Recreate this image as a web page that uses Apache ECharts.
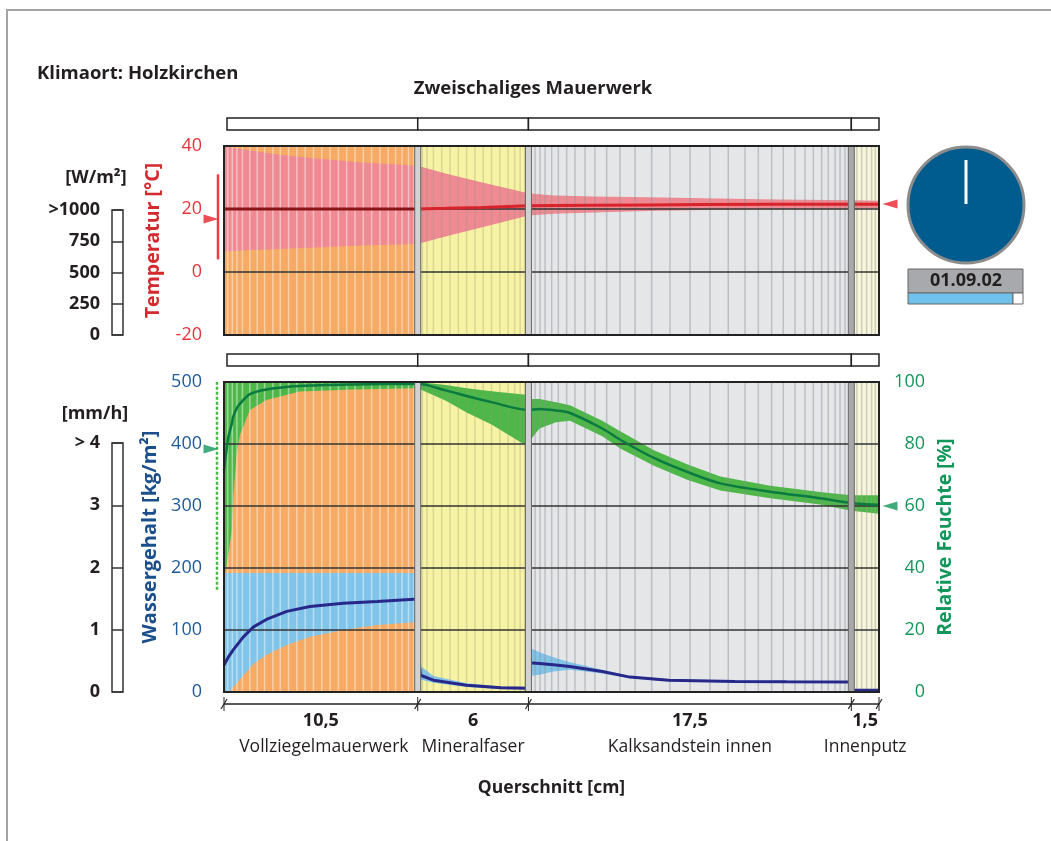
<!DOCTYPE html>
<html>
<head>
<meta charset="utf-8">
<title>Zweischaliges Mauerwerk</title>
<script src="https://cdn.jsdelivr.net/npm/echarts@6/dist/echarts.min.js"></script>
<style>
  html, body { margin: 0; padding: 0; background: #fff; }
  #chart { width: 1051px; height: 841px; }
</style>
</head>
<body>
<div id="chart"></div>
<script>
// Schichtaufbau (von aussen nach innen)
var layerNames = ['Vollziegelmauerwerk', 'Mineralfaser', 'Kalksandstein innen', 'Innenputz'];
var layerThickness = [10.5, 6, 17.5, 1.5];
var layerLabels = ['10,5', '6', '17,5', '1,5'];
var layerColors = ['#f6aa63', '#f7f3a4', '#e4e6e8', '#f7f5dd'];
var cellColors = ['rgba(255,255,255,0.45)', 'rgba(150,150,120,0.3)', 'rgba(140,145,150,0.45)', 'rgba(160,160,130,0.45)'];

// Berechnungsgitter [cm]
var cellPos = [0.2, 0.45, 0.7, 1.0, 1.4, 1.8, 2.2, 2.65, 3.05, 3.5, 3.95, 4.4, 4.85, 5.3, 5.75, 6.2, 6.65, 7.1, 7.55, 8.0, 8.45, 8.9, 9.3, 9.65, 10.0, 10.3,
  10.75, 11.0, 11.35, 11.8, 12.25, 12.7, 13.15, 13.6, 14.05, 14.5, 14.95, 15.4, 15.75, 16.05, 16.3,
  16.86, 17.13, 17.4, 17.76, 18.12, 18.57, 19.02, 19.57, 20.1, 20.74, 21.46, 22.28, 23.18, 24.17, 25.26, 26.34, 27.33, 28.24, 28.96, 29.68, 30.31, 30.95, 31.49, 31.94, 32.39, 32.75, 33.12, 33.39, 33.66,
  34.3, 34.56, 34.83, 35.1, 35.3];

// Temperatur [°C]
var tempPos  = [0,    1,    3,    5,    7.5,  10.5, 12,   14,   16.5, 17.9, 20,   23,   26,   30,   34,   35.5];
var tempMax  = [39.8, 39.0, 37.2, 36.0, 34.8, 33.7, 31.3, 28.4, 25.0, 24.3, 24.0, 23.7, 23.4, 23.0, 22.8, 22.6];
var tempMin  = [6.5,  6.8,  7.3,  7.8,  8.4,  8.9,  11.3, 14.2, 17.9, 18.5, 18.9, 19.4, 19.7, 19.9, 20.0, 20.2];
var tempMean = [20.0, 20.0, 20.0, 20.0, 20.0, 20.0, 20.2, 20.5, 21.0, 21.1, 21.2, 21.3, 21.4, 21.5, 21.5, 21.5];

// Wassergehalt [kg/m³]
var wcPos  = [0,    0.27, 0.5, 1.05, 1.6, 2.3, 3.4, 4.66, 6.47, 8.3, 10.5,  10.5, 10.65, 11.35, 13.15, 15, 16.5,  16.5, 17.1, 17.85, 18.75, 20.5, 22, 24.1, 27.7, 30.5, 34,  34,  35.5];
var wcMean = [43.5, 58,   68,  89,   105, 117, 130, 138,  143,  146, 150,   63,   27,    19,    11,    7,  6,     47,   46,   44,    41,    33,   24, 19,   17,   16.5, 16,  3,   3];
var wcMin  = [0,    0,    8,   27,   45,  60,  76,  89,   100,  108, 113,   50,   20,    15,    8,     5,  4,     26,   28,   33,    36,    30,   22, 17.5, 15.5, 15,   14.5, 2,  2];
var wcMax  = [192,  192,  192, 192,  192, 192, 192, 192,  192,  192, 192,   66,   42,    26,    14,    9,  8,     72,   64,   56,    48,    36,   26, 20.5, 18.5, 18,   17.5, 4.5, 4.5];

// Relative Feuchte [%]
var rhPos  = [0,    0.23, 0.42, 0.5,  0.69, 0.87, 1.4,  2.3,  4.1,  7,    10.5, 12,   13.15, 14.5, 16.5, 16.5, 17.1, 18,   18.75, 20.5, 21.5, 23.3, 25.1, 26.9, 29.6, 32.3, 34,   35.5];
var rhMean = [71.6, 82,   86.5, 88.8, 91.5, 93,   96.1, 97.6, 98.7, 99.2, 99.4, 97.3, 95.5,  93.5, 91,   91,   91.3, 90.8, 90,    85,   81.3, 75.5, 71,   67.3, 64.6, 62.5, 61,   60.4];
var rhMin  = [36,   44,   52,   63,   77,   83,   91,   94.2, 96.9, 97.6, 98,   94,   90.2,  86.3, 79,   80.5, 85,   87,   87.5,  82.5, 78.5, 73,   68.5, 65,   62.5, 60.5, 58.5, 57.5];
var rhMax  = [100,  100,  100,  100,  100,  100,  100,  100,  100,  100,  100,  99,   98,    97,   95.8, 94.5, 94.5, 93.5, 92.5,  87.5, 84,   78,   73.5, 69.5, 66.5, 64.5, 63.5, 63.5];

// Randbedingungen aussen / innen
var tempOutside = 16.8, tempInside = 21.6, tempOutsideRange = [4, 31];
var rhOutside = 78.4, rhInside = 60, rhOutsideRange = [33, 100];

var FONT = '"Open Sans", "Liberation Sans", sans-serif';
var INK = '#231f20';

var layerStart = [];
var total = 0;
layerThickness.forEach(function (t) { layerStart.push(total); total += t; });

function layerOf(x) {
  var idx = 0;
  layerStart.forEach(function (s, i) { if (x >= s) idx = i; });
  return idx;
}

// Schichtfarben + Kopfleiste
function layerSeries(g, yIdx) {
  return {
    type: 'custom', xAxisIndex: g, yAxisIndex: yIdx, z: 1, silent: true,
    data: layerThickness.map(function (t, i) { return [layerStart[i], layerStart[i] + t]; }),
    renderItem: function (params, api) {
      var cs = params.coordSys;
      var i = params.dataIndex;
      var x0 = api.coord([api.value(0), 0])[0];
      var x1 = api.coord([api.value(1), 0])[0];
      return {
        type: 'group',
        children: [
          { type: 'rect', shape: { x: x0, y: cs.y, width: x1 - x0, height: cs.height }, style: { fill: layerColors[i] } },
          { type: 'rect', shape: { x: i === 0 ? x0 + 3 : x0, y: cs.y - 28, width: x1 - x0 - (i === 0 ? 3 : 0), height: 12 }, style: { fill: '#fff', stroke: '#222', lineWidth: 1.5 } }
        ]
      };
    }
  };
}

function cellSeries(g, yIdx) {
  return {
    type: 'custom', xAxisIndex: g, yAxisIndex: yIdx, z: 3, silent: true,
    data: cellPos.map(function (p) { return [p]; }),
    renderItem: function (params, api) {
      var cs = params.coordSys;
      var x = api.coord([api.value(0), 0])[0];
      return { type: 'line', shape: { x1: x, y1: cs.y, x2: x, y2: cs.y + cs.height }, style: { stroke: cellColors[layerOf(api.value(0))], lineWidth: 1.5 } };
    }
  };
}

function separatorSeries(g, yIdx) {
  return {
    type: 'custom', xAxisIndex: g, yAxisIndex: yIdx, z: 6, silent: true,
    data: layerStart.slice(1).map(function (p) { return [p]; }),
    renderItem: function (params, api) {
      var cs = params.coordSys;
      var x = api.coord([api.value(0), 0])[0];
      var dark = params.dataIndex === layerStart.length - 2;
      return { type: 'rect', shape: { x: x - 3, y: cs.y, width: 6, height: cs.height }, style: { fill: dark ? '#a9a9a9' : '#d2d2d2', stroke: '#666', lineWidth: 1 } };
    }
  };
}

function bandSeries(g, yIdx, pos, lo, hi, color) {
  return {
    type: 'custom', xAxisIndex: g, yAxisIndex: yIdx, z: 2, silent: true,
    data: pos.map(function (p, i) { return [p, lo[i], hi[i]]; }),
    renderItem: function (params, api) {
      if (params.dataIndex !== 0) return null;
      var top = pos.map(function (p, i) { return api.coord([p, hi[i]]); });
      var bottom = pos.map(function (p, i) { return api.coord([p, lo[i]]); }).reverse();
      return { type: 'polygon', shape: { points: top.concat(bottom) }, style: { fill: color } };
    }
  };
}

function meanSeries(name, g, yIdx, pos, val, color, width, smooth) {
  return {
    name: name, type: 'line', xAxisIndex: g, yAxisIndex: yIdx, z: 5, silent: true,
    showSymbol: false, symbol: 'none', smooth: smooth || false,
    data: pos.map(function (p, i) { return [p, val[i]]; }),
    lineStyle: { color: color, width: width }
  };
}

function rangeSeries(g, yIdx, range, color, dash, offset) {
  return {
    type: 'custom', xAxisIndex: g, yAxisIndex: yIdx, z: 8, silent: true,
    data: [[0, range[0], range[1]]],
    renderItem: function (params, api) {
      var a = api.coord([0, api.value(1)]);
      var b = api.coord([0, api.value(2)]);
      return { type: 'line', shape: { x1: a[0] + offset, y1: a[1], x2: b[0] + offset, y2: b[1] }, style: { stroke: color, lineWidth: 2.5, lineDash: dash } };
    }
  };
}

function arrowSeries(g, yIdx, point, color, rotate, offset) {
  return {
    type: 'scatter', xAxisIndex: g, yAxisIndex: yIdx, z: 8, silent: true, clip: false,
    symbol: 'triangle', symbolSize: [9, 15], symbolRotate: rotate, symbolOffset: offset,
    itemStyle: { color: color },
    data: [point]
  };
}

function dimensionSeries() {
  return {
    type: 'custom', xAxisIndex: 1, yAxisIndex: 1, z: 10, silent: true,
    data: layerThickness.map(function (t, i) { return [layerStart[i], layerStart[i] + t]; }),
    renderItem: function (params, api) {
      var i = params.dataIndex;
      var cs = params.coordSys;
      var x0 = api.coord([api.value(0), 0])[0];
      var x1 = api.coord([api.value(1), 0])[0];
      var y = cs.y + cs.height + 12;
      var mid = (x0 + x1) / 2;
      var children = [
        { type: 'line', shape: { x1: x0, y1: y, x2: x1, y2: y }, style: { stroke: '#222', lineWidth: 1.5 } }
      ];
      var ticks = i === layerThickness.length - 1 ? [x0, x1] : [x0];
      ticks.forEach(function (tx) {
        children.push({ type: 'line', shape: { x1: tx, y1: y - 7, x2: tx, y2: y + 7 }, style: { stroke: '#222', lineWidth: 1 } });
        children.push({ type: 'line', shape: { x1: tx - 3, y1: y + 5, x2: tx + 3, y2: y - 5 }, style: { stroke: '#222', lineWidth: 1.2 } });
      });
      children.push({ type: 'text', style: { text: layerLabels[i], x: mid, y: y + 17, align: 'center', verticalAlign: 'middle', font: 'bold 18px ' + FONT, fill: INK } });
      children.push({ type: 'text', style: { text: layerNames[i], x: mid + (i === 0 ? 3 : 0), y: y + 43, align: 'center', verticalAlign: 'middle', font: '17.5px ' + FONT, fill: INK } });
      return { type: 'group', children: children };
    }
  };
}

// Temperaturmittel: im Ziegel dunkler dargestellt
var brickEnd = layerThickness[0];
var tempOuterIdx = tempPos.map(function (p, i) { return i; }).filter(function (i) { return tempPos[i] <= brickEnd; });
var tempInnerIdx = tempPos.map(function (p, i) { return i; }).filter(function (i) { return tempPos[i] >= brickEnd; });
function pick(arr, idx) { return idx.map(function (i) { return arr[i]; }); }

var chart = echarts.init(document.getElementById('chart'));

chart.setOption({
  animation: false,
  backgroundColor: '#fff',
  textStyle: { fontFamily: FONT },
  grid: [
    { left: 224, top: 146, width: 655, height: 189, show: true, borderColor: '#222', borderWidth: 2, z: 7 },
    { left: 224, top: 382, width: 655, height: 310, show: true, borderColor: '#222', borderWidth: 2, z: 7 },
    { left: 112, top: 210, width: 11, height: 125, show: true, borderColor: '#333', borderWidth: 1.5 },
    { left: 112, top: 443, width: 11, height: 249, show: true, borderColor: '#333', borderWidth: 1.5 }
  ],
  xAxis: [
    { gridIndex: 0, type: 'value', min: 0, max: total, axisLine: { show: false }, axisTick: { show: false }, axisLabel: { show: false }, splitLine: { show: false } },
    { gridIndex: 1, type: 'value', min: 0, max: total, axisLine: { show: false }, axisTick: { show: false }, axisLabel: { show: false }, splitLine: { show: false },
      name: 'Querschnitt [cm]', nameLocation: 'middle', nameGap: 87, nameTextStyle: { fontWeight: 'bold', fontSize: 17.5, color: INK } },
    { gridIndex: 2, type: 'value', show: false },
    { gridIndex: 3, type: 'value', show: false }
  ],
  yAxis: [
    { gridIndex: 0, type: 'value', min: -20, max: 40, interval: 20, z: 4,
      axisLine: { show: false }, axisTick: { show: false },
      axisLabel: { color: '#e8343a', fontSize: 18, margin: 22 },
      splitLine: { lineStyle: { color: '#333', width: 1.5 } },
      name: 'Temperatur [°C]', nameLocation: 'middle', nameGap: 61, nameRotate: 90,
      nameTextStyle: { color: '#d42a2f', fontWeight: 'bold', fontSize: 19.5 } },
    { gridIndex: 1, type: 'value', min: 0, max: 500, interval: 100, z: 4,
      axisLine: { show: false }, axisTick: { show: false },
      axisLabel: { color: '#1f5b98', fontSize: 18, margin: 22 },
      splitLine: { lineStyle: { color: '#333', width: 1.5 } },
      name: 'Wassergehalt [kg/m²]', nameLocation: 'middle', nameGap: 61, nameRotate: 90,
      nameTextStyle: { color: '#1a4f8c', fontWeight: 'bold', fontSize: 20 } },
    { gridIndex: 1, type: 'value', position: 'right', min: 0, max: 100, interval: 20, z: 4,
      axisLine: { show: false }, axisTick: { show: false },
      axisLabel: { color: '#13965a', fontSize: 18, margin: 46, align: 'right' },
      splitLine: { show: false },
      name: 'Relative Feuchte [%]', nameLocation: 'middle', nameGap: 53, nameRotate: 90,
      nameTextStyle: { color: '#13965a', fontWeight: 'bold', fontSize: 19.5 } },
    { gridIndex: 2, type: 'value', min: 0, max: 1000, interval: 250,
      axisLine: { show: false }, axisTick: { show: false },
      axisLabel: { color: INK, fontSize: 18, fontWeight: 'bold', margin: 12, formatter: function (v) { return v === 1000 ? '>1000' : v; } },
      splitLine: { lineStyle: { color: '#333', width: 1.5 } } },
    { gridIndex: 3, type: 'value', min: 0, max: 4, interval: 1,
      axisLine: { show: false }, axisTick: { show: false },
      axisLabel: { color: INK, fontSize: 18, fontWeight: 'bold', margin: 12, formatter: function (v) { return v === 4 ? '> 4' : v; } },
      splitLine: { lineStyle: { color: '#333', width: 1.5 } } }
  ],
  graphic: { elements: [
    { type: 'line', shape: { x1: 7, y1: 10, x2: 1051, y2: 10 }, style: { stroke: '#a3a3a3', lineWidth: 2 } },
    { type: 'line', shape: { x1: 7, y1: 9, x2: 7, y2: 841 }, style: { stroke: '#a3a3a3', lineWidth: 2 } },
    { type: 'text', x: 37, y: 74, style: { text: 'Klimaort: Holzkirchen', font: 'bold 18.5px ' + FONT, fill: INK, align: 'left', verticalAlign: 'middle' } },
    { type: 'text', x: 533, y: 89, style: { text: 'Zweischaliges Mauerwerk', font: 'bold 18.5px ' + FONT, fill: INK, align: 'center', verticalAlign: 'middle' } },
    { type: 'text', x: 96, y: 178, style: { text: '[W/m²]', font: 'bold 18px ' + FONT, fill: INK, align: 'center', verticalAlign: 'middle' } },
    { type: 'text', x: 95, y: 414, style: { text: '[mm/h]', font: 'bold 18px ' + FONT, fill: INK, align: 'center', verticalAlign: 'middle' } },
    { type: 'circle', shape: { cx: 966, cy: 205, r: 58 }, style: { fill: '#005b8f', stroke: '#8c8c8c', lineWidth: 3 } },
    { type: 'line', shape: { x1: 966, y1: 204, x2: 966, y2: 160 }, style: { stroke: '#fff', lineWidth: 3 } },
    { type: 'rect', shape: { x: 908, y: 269, width: 115, height: 24 }, style: { fill: '#a7a9ac', stroke: '#666', lineWidth: 1 } },
    { type: 'text', x: 966, y: 281, style: { text: '01.09.02', font: 'bold 18px ' + FONT, fill: INK, align: 'center', verticalAlign: 'middle' } },
    { type: 'rect', shape: { x: 908, y: 293, width: 105, height: 11 }, style: { fill: '#6ec1ea', stroke: '#666', lineWidth: 1 } },
    { type: 'rect', shape: { x: 1013, y: 293, width: 10, height: 11 }, style: { fill: '#fff', stroke: '#666', lineWidth: 1 } }
  ] },
  series: [
    layerSeries(0, 0),
    bandSeries(0, 0, tempPos, tempMin, tempMax, '#ef8a93'),
    cellSeries(0, 0),
    meanSeries('Temperatur aussen', 0, 0, pick(tempPos, tempOuterIdx), pick(tempMean, tempOuterIdx), '#8a1518', 3),
    meanSeries('Temperatur', 0, 0, pick(tempPos, tempInnerIdx), pick(tempMean, tempInnerIdx), '#d8232a', 3),
    separatorSeries(0, 0),
    rangeSeries(0, 0, tempOutsideRange, '#ee3a43', null, -6),
    arrowSeries(0, 0, [0, tempOutside], '#e8202a', -90, [-13, 0]),
    arrowSeries(0, 0, [total, tempInside], '#e8202a', 90, [11, 0]),

    layerSeries(1, 1),
    bandSeries(1, 2, rhPos, rhMin, rhMax, '#4db848'),
    bandSeries(1, 1, wcPos, wcMin, wcMax, '#80c4ea'),
    cellSeries(1, 1),
    meanSeries('Relative Feuchte', 1, 2, rhPos, rhMean, '#0a7a40', 2.5, 0.3),
    meanSeries('Wassergehalt', 1, 1, wcPos, wcMean, '#27288a', 3),
    separatorSeries(1, 1),
    rangeSeries(1, 2, rhOutsideRange, '#4db848', [3, 2], -7),
    arrowSeries(1, 2, [0, rhOutside], '#13965a', -90, [-13, 0]),
    arrowSeries(1, 2, [total, rhInside], '#13965a', 90, [11, 0]),
    dimensionSeries()
  ]
});
</script>
</body>
</html>
